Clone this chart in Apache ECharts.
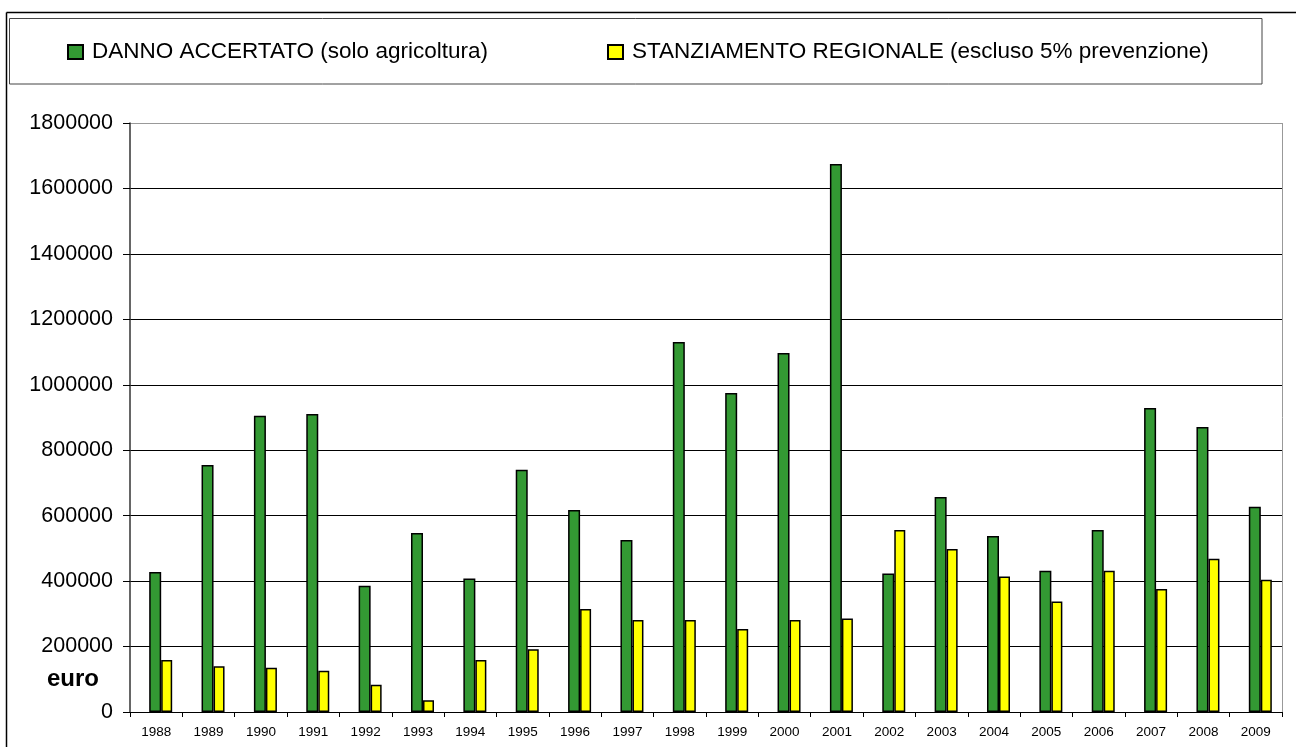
<!DOCTYPE html>
<html>
<head>
<meta charset="utf-8">
<script src="https://cdn.jsdelivr.net/npm/echarts@6/dist/echarts.min.js"></script>
<style>
  html, body { margin: 0; padding: 0; background: #fff; }
  #main { width: 1296px; height: 747px; }
</style>
</head>
<body>
<div id="main"></div>
<script>
// anni
const years = ['1988', '1989', '1990', '1991', '1992', '1993', '1994', '1995', '1996', '1997', '1998',
  '1999', '2000', '2001', '2002', '2003', '2004', '2005', '2006', '2007', '2008', '2009']
// danno accertato (solo agricoltura)
const danno = [428000, 755000, 905000, 911000, 386000, 547000, 408000, 740000, 617000, 526000, 1131000,
  975000, 1097000, 1675000, 423000, 657000, 538000, 432000, 556000, 929000, 871000, 627000]
// stanziamento regionale
const stanziamento = [159000, 140000, 135000, 126000, 83000, 36000, 159000, 192000, 315000, 281000, 281000,
  254000, 281000, 286000, 556000, 498000, 414000, 338000, 432000, 376000, 468000, 404000]
const yMax = 1800000
const yStep = 200000

const nomeDanno = 'DANNO ACCERTATO (solo agricoltura)'
const nomeStanz = 'STANZIAMENTO REGIONALE (escluso 5% prevenzione)'
const font = 'Liberation Sans, Arial, sans-serif'

const myChart = echarts.init(document.getElementById('main'))

// griglia nera, bordo superiore grigio
const gridColors = ['#000', '#000', '#000', '#000', '#000', '#000', '#000', '#000', '#000', '#999']

const legendBase = {
  top: 40,
  padding: 0,
  itemWidth: 15,
  itemHeight: 14,
  icon: 'rect',
  selectedMode: false,
  textStyle: { fontSize: 22.5, lineHeight: 24, color: '#000', fontFamily: font, padding: [0, 0, 0, 4] }
}

myChart.setOption({
  animation: false,
  backgroundColor: '#fff',
  textStyle: { fontFamily: font },
  graphic: [
    // cornice esterna
    { type: 'line', shape: { x1: 6.5, y1: 12.5, x2: 1296, y2: 12.5 }, style: { stroke: '#000', lineWidth: 1.5 } },
    { type: 'line', shape: { x1: 6.5, y1: 12.5, x2: 6.5, y2: 747 }, style: { stroke: '#000', lineWidth: 1.5 } },
    // riquadro legenda
    { type: 'rect', shape: { x: 9.5, y: 18.5, width: 1252.5, height: 65.5 }, style: { fill: 'none', stroke: '#444', lineWidth: 1 } },
    { type: 'text', left: 47, top: 667, style: { text: 'euro', font: 'bold 24px ' + font, fill: '#000' } }
  ],
  legend: [
    Object.assign({}, legendBase, { left: 67, data: [nomeDanno] }),
    Object.assign({}, legendBase, { left: 607, data: [nomeStanz] })
  ],
  grid: { left: 130, right: 14, top: 123, bottom: 35 },
  xAxis: {
    type: 'category',
    data: years,
    axisLine: { lineStyle: { color: '#000', width: 1 } },
    axisTick: { show: true, length: 5, lineStyle: { color: '#000' } },
    axisLabel: { fontSize: 13.5, color: '#000', margin: 13 },
    splitLine: { show: false }
  },
  yAxis: {
    type: 'value',
    min: 0,
    max: yMax,
    interval: yStep,
    axisLine: { show: true, lineStyle: { color: '#333', width: 1.5 } },
    axisTick: { show: true, length: 7, lineStyle: { color: '#000' } },
    axisLabel: {
      fontSize: 21.5,
      color: '#000',
      margin: 17,
      formatter: function (v) { return String(v) }
    },
    splitLine: { show: true, lineStyle: { color: gridColors, width: 1 } }
  },
  series: [
    {
      // serie vuota per spostare le barre a destra come nell'originale
      name: 'vuoto',
      type: 'bar',
      data: years.map(function () { return 0 }),
      barWidth: 9,
      barGap: '0%',
      silent: true,
      itemStyle: { color: 'rgba(0,0,0,0)', borderWidth: 0 }
    },
    {
      name: nomeDanno,
      type: 'bar',
      data: danno,
      barWidth: 12,
      barGap: '0%',
      itemStyle: { color: '#339933', borderColor: '#000', borderWidth: 1.5 }
    },
    {
      name: nomeStanz,
      type: 'bar',
      data: stanziamento,
      barWidth: 11,
      itemStyle: { color: '#ffff00', borderColor: '#000', borderWidth: 1.5 }
    },
    {
      // bordo destro grigio dell'area del grafico
      type: 'line',
      data: [],
      markLine: {
        silent: true,
        symbol: 'none',
        label: { show: false },
        lineStyle: { color: '#999', type: 'solid', width: 1 },
        data: [[{ x: 1282, y: 123 }, { x: 1282, y: 712 }]]
      }
    }
  ]
})
</script>
</body>
</html>
